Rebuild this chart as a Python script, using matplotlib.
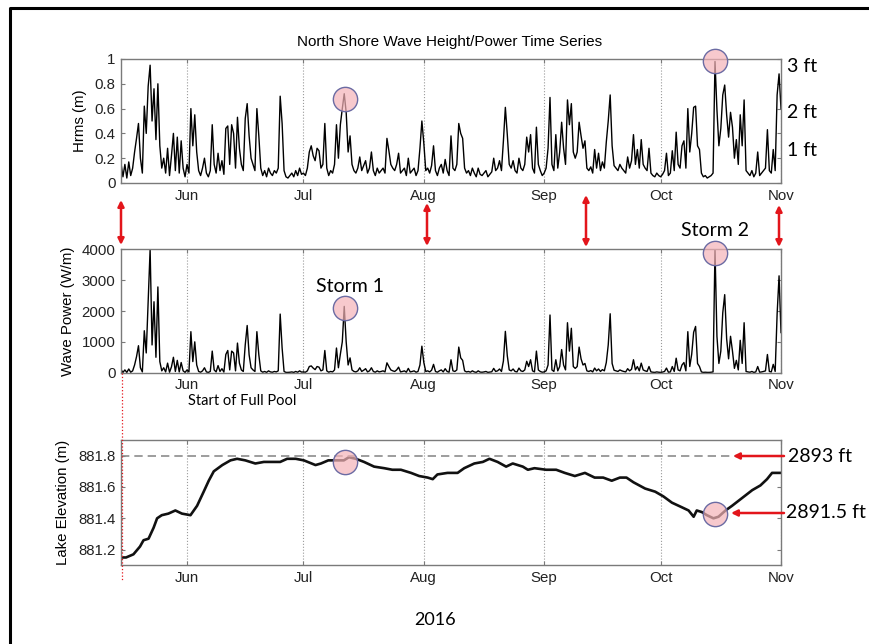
import numpy as np
import matplotlib
matplotlib.use("Agg")
import matplotlib.pyplot as plt
import matplotlib.dates as mdates
from matplotlib.patches import FancyArrowPatch
from matplotlib.lines import Line2D

plt.rcParams['font.family'] = ['Liberation Sans', 'DejaVu Sans']

# half-daily wave height (m) from 2016-05-15 00:00, one row = one week
hrms = [
    0.16, 0.05, 0.15, 0.04, 0.17, 0.06, 0.12, 0.25, 0.36, 0.48, 0.20, 0.08, 0.62, 0.40,
    0.78, 0.95, 0.50, 0.76, 0.35, 0.80, 0.30, 0.12, 0.20, 0.08, 0.28, 0.06, 0.22, 0.40,
    0.10, 0.37, 0.08, 0.34, 0.12, 0.05, 0.15, 0.08, 0.60, 0.30, 0.55, 0.25, 0.10, 0.06,
    0.12, 0.20, 0.08, 0.05, 0.10, 0.47, 0.15, 0.08, 0.24, 0.10, 0.18, 0.07, 0.44, 0.46,
    0.15, 0.47, 0.40, 0.12, 0.53, 0.28, 0.15, 0.10, 0.52, 0.64, 0.38, 0.20, 0.15, 0.10,
    0.60, 0.38, 0.12, 0.06, 0.10, 0.05, 0.12, 0.08, 0.06, 0.10, 0.08, 0.12, 0.70, 0.48,
    0.10, 0.05, 0.04, 0.06, 0.08, 0.05, 0.10, 0.06, 0.12, 0.07, 0.08, 0.06, 0.12, 0.25,
    0.30, 0.22, 0.18, 0.28, 0.26, 0.12, 0.15, 0.48, 0.12, 0.06, 0.10, 0.08, 0.15, 0.47,
    0.20, 0.47, 0.60, 0.72, 0.57, 0.25, 0.38, 0.15, 0.10, 0.08, 0.12, 0.21, 0.10, 0.14,
    0.18, 0.08, 0.12, 0.25, 0.10, 0.06, 0.12, 0.08, 0.10, 0.12, 0.08, 0.36, 0.26, 0.15,
    0.12, 0.10, 0.15, 0.24, 0.08, 0.10, 0.12, 0.06, 0.20, 0.08, 0.10, 0.12, 0.06, 0.10,
    0.28, 0.50, 0.32, 0.10, 0.12, 0.08, 0.14, 0.30, 0.10, 0.06, 0.12, 0.15, 0.08, 0.19,
    0.10, 0.06, 0.38, 0.12, 0.10, 0.15, 0.48, 0.40, 0.36, 0.12, 0.08, 0.10, 0.06, 0.12,
    0.08, 0.05, 0.12, 0.07, 0.06, 0.08, 0.10, 0.05, 0.07, 0.09, 0.20, 0.10, 0.12, 0.18,
    0.10, 0.34, 0.61, 0.39, 0.15, 0.12, 0.18, 0.10, 0.08, 0.20, 0.12, 0.10, 0.15, 0.37,
    0.25, 0.39, 0.12, 0.08, 0.45, 0.15, 0.10, 0.06, 0.08, 0.12, 0.28, 0.69, 0.15, 0.10,
    0.39, 0.12, 0.25, 0.49, 0.28, 0.15, 0.67, 0.47, 0.64, 0.25, 0.20, 0.25, 0.49, 0.38,
    0.28, 0.34, 0.12, 0.10, 0.13, 0.08, 0.27, 0.12, 0.24, 0.10, 0.17, 0.12, 0.33, 0.50,
    0.71, 0.30, 0.14, 0.12, 0.10, 0.15, 0.12, 0.10, 0.08, 0.21, 0.12, 0.18, 0.39, 0.15,
    0.27, 0.12, 0.35, 0.15, 0.12, 0.10, 0.28, 0.08, 0.06, 0.05, 0.08, 0.06, 0.05, 0.07,
    0.10, 0.24, 0.06, 0.08, 0.26, 0.10, 0.41, 0.15, 0.12, 0.30, 0.34, 0.12, 0.60, 0.25,
    0.40, 0.61, 0.62, 0.30, 0.27, 0.08, 0.05, 0.06, 0.04, 0.05, 0.06, 0.08, 0.98, 0.59,
    0.30, 0.44, 0.71, 0.79, 0.55, 0.37, 0.57, 0.45, 0.20, 0.35, 0.15, 0.55, 0.30, 0.67,
    0.10, 0.08, 0.06, 0.10, 0.05, 0.08, 0.25, 0.06, 0.08, 0.10, 0.12, 0.43, 0.10, 0.08,
    0.27, 0.10, 0.71, 0.88, 0.60,
]

# half-daily wave power (W/m), same time base
power = [
    100, 10, 90, 10, 120, 15, 60, 250, 520, 875, 160, 25, 1360, 640,
    2330, 4000, 900, 2300, 500, 2780, 360, 60, 160, 25, 310, 15, 190, 500,
    40, 400, 25, 330, 60, 10, 90, 25, 1330, 360, 1000, 250, 40, 15,
    60, 160, 25, 10, 40, 700, 90, 25, 230, 40, 130, 20, 590, 720,
    90, 700, 640, 60, 960, 310, 90, 40, 900, 1530, 580, 160, 90, 40,
    1330, 580, 60, 15, 40, 10, 60, 25, 15, 40, 25, 60, 1900, 800,
    40, 10, 10, 15, 25, 10, 40, 15, 60, 20, 25, 15, 60, 200,
    220, 150, 100, 200, 180, 60, 90, 720, 60, 15, 40, 25, 90, 800,
    160, 600, 1000, 2150, 1000, 250, 480, 90, 40, 25, 60, 160, 40, 80,
    130, 25, 60, 160, 40, 15, 60, 25, 40, 60, 25, 320, 200, 90,
    60, 40, 90, 180, 25, 40, 60, 15, 140, 25, 40, 60, 15, 40,
    250, 860, 330, 40, 60, 25, 80, 270, 40, 15, 60, 90, 25, 130,
    40, 15, 420, 60, 40, 90, 830, 480, 400, 60, 25, 40, 15, 60,
    25, 10, 60, 20, 15, 25, 40, 10, 20, 30, 140, 40, 60, 120,
    40, 380, 1340, 550, 90, 60, 120, 40, 25, 150, 60, 40, 90, 370,
    200, 420, 60, 25, 700, 90, 40, 15, 25, 60, 250, 1870, 90, 40,
    420, 60, 200, 750, 250, 90, 1620, 700, 1440, 200, 140, 200, 830, 450,
    250, 300, 60, 40, 70, 25, 150, 60, 120, 40, 100, 60, 330, 900,
    1910, 300, 80, 60, 40, 90, 60, 40, 25, 130, 60, 110, 420, 90,
    200, 60, 310, 90, 60, 40, 200, 25, 15, 10, 25, 15, 10, 20,
    40, 150, 15, 25, 200, 40, 470, 90, 60, 250, 330, 60, 1330, 200,
    600, 1310, 1500, 300, 200, 25, 10, 15, 10, 10, 15, 25, 4000, 1180,
    300, 700, 1940, 2530, 1100, 450, 1180, 700, 140, 400, 90, 1050, 300, 1620,
    40, 25, 15, 40, 10, 25, 200, 15, 25, 40, 60, 590, 40, 25,
    270, 40, 1900, 3140, 1300,
]

# lake level (m), days after 2016-05-15
lake_day = [0, 1.3, 3.2, 4.9, 5.8, 7.1, 8.4, 9.3, 10.5, 12.2,
            14, 15.7, 17.9, 19.6, 21.3, 22.6, 23.9, 26.1, 28.2, 29.9,
            32, 34.6, 36.8, 39.4, 41, 42.8, 45, 47.1, 50.1, 51.5,
            53.4, 55.7, 57.4, 58.7, 60.5, 62.6, 65.2, 67.8, 69.9, 72.1,
            74.7, 76.8, 79, 80.3, 81.5, 84.1, 86.7, 88.4, 91, 93.2,
            94.9, 97, 99.2, 100.9, 103.5, 104.8, 106.5, 109.5, 112.1, 114.3,
            116.9, 119.5, 122, 124.2, 126.4, 128.5, 130.2, 132, 135, 137.6,
            139.7, 141.9, 144.5, 146.2, 147.5, 148.3, 149.6, 150.9, 152.6, 153.9,
            155.7, 157.4, 160, 162.6, 164.7, 166.4, 167.7, 169, 170]
lake_elev = [881.15, 881.15, 881.17, 881.22, 881.26, 881.27, 881.34, 881.40, 881.42, 881.43,
             881.45, 881.43, 881.42, 881.48, 881.57, 881.64, 881.70, 881.74, 881.77, 881.78,
             881.77, 881.75, 881.76, 881.76, 881.76, 881.78, 881.78, 881.77, 881.74, 881.75,
             881.77, 881.77, 881.77, 881.79, 881.78, 881.76, 881.73, 881.72, 881.71, 881.71,
             881.69, 881.67, 881.66, 881.65, 881.68, 881.69, 881.69, 881.72, 881.75, 881.76,
             881.78, 881.76, 881.73, 881.75, 881.73, 881.71, 881.72, 881.71, 881.71, 881.69,
             881.67, 881.69, 881.66, 881.66, 881.64, 881.66, 881.66, 881.63, 881.59, 881.57,
             881.54, 881.50, 881.47, 881.45, 881.41, 881.45, 881.44, 881.42, 881.40, 881.41,
             881.45, 881.48, 881.53, 881.58, 881.61, 881.65, 881.69, 881.69, 881.69]

# storm markers
storm_day = [57.7, 152.9]
storm_hrms = [0.68, 0.98]
storm_power = [2090, 3890]
storm_lake = [881.76, 881.43]
full_pool = 881.8

t0 = np.datetime64('2016-05-15T00:00')
t_wave = t0 + np.arange(len(hrms)) * np.timedelta64(12, 'h')
def to_date(days):
    return t0 + (np.array(days) * 24 * 60).astype(int) * np.timedelta64(1, 'm')

W, H = 870, 644
fig = plt.figure(figsize=(W / 100, H / 100), dpi=100)

def fx(p):
    return p / W
def fy(p):
    return 1 - p / H

spine_c = '#7a7a7a'
red = '#e3151b'
ann_font = 'Lato'

ax1 = fig.add_axes([fx(121), fy(183), 660 / W, 124 / H])
ax2 = fig.add_axes([fx(121), fy(372.7), 660 / W, 123.4 / H])
ax3 = fig.add_axes([fx(121), fy(565.3), 660 / W, 125.3 / H])

for ax in (ax1, ax2, ax3):
    ax.set_xlim(t0, np.datetime64('2016-11-01T00:00'))
    ax.xaxis.set_major_locator(mdates.MonthLocator())
    ax.xaxis.set_major_formatter(mdates.DateFormatter('%b'))
    ax.grid(axis='x', ls=':', color='#9a9a9a', lw=0.8)
    ax.tick_params(direction='in', length=3, top=True, right=True, color=spine_c,
                   labelsize=10.8, labelcolor='#222222', pad=4)
    for s in ax.spines.values():
        s.set_color(spine_c)
        s.set_linewidth(1.0)

ax1.plot(t_wave, hrms, color='#000000', lw=1.0)
ax1.set_ylim(0, 1)
ax1.set_yticks([0, 0.2, 0.4, 0.6, 0.8, 1])
ax1.set_yticklabels(['0', '0.2', '0.4', '0.6', '0.8', '1'])
ax1.set_ylabel('Hrms (m)', fontsize=10.8, va='center')
ax1.yaxis.set_label_coords(-0.062, 0.5)

ax2.plot(t_wave, power, color='#000000', lw=1.0)
ax2.set_ylim(0, 4000)
ax2.set_yticks([0, 1000, 2000, 3000, 4000])
ax2.set_ylabel('Wave Power (W/m)', fontsize=10.8, va='center')
ax2.yaxis.set_label_coords(-0.080, 0.5)

ax3.plot(to_date(lake_day), lake_elev, color='#111111', lw=1.9)
ax3.axhline(full_pool, color='#8c8c8c', ls=(0, (5, 3)), lw=1.2)
ax3.set_ylim(881.1, 881.9)
ax3.set_yticks([881.2, 881.4, 881.6, 881.8])
ax3.set_ylabel('Lake Elevation (m)', fontsize=10.8, va='center')
ax3.yaxis.set_label_coords(-0.088, 0.5)

# storm circles
circ = dict(marker='o', ms=17.5, ls='none', mfc=(0.96, 0.70, 0.72, 0.7),
            mec='#6b6ba3', mew=1.0, clip_on=False, zorder=4)
ax1.plot(to_date(storm_day), storm_hrms, **circ)
ax2.plot(to_date(storm_day), storm_power, **circ)
ax3.plot(to_date(storm_day), storm_lake, **circ)

fig.text(fx(450), fy(42), 'North Shore Wave Height/Power Time Series',
         ha='center', va='center', fontsize=11)

for label, y in [('3 ft', 67), ('2 ft', 112.7), ('1 ft', 151)]:
    fig.text(fx(787), fy(y), label, ha='left', va='center', fontsize=14, family=ann_font)

fig.text(fx(350), fy(287), 'Storm 1', ha='center', va='center', fontsize=14, family=ann_font)
fig.text(fx(715), fy(230), 'Storm 2', ha='center', va='center', fontsize=14, family=ann_font)
fig.text(fx(188), fy(401), 'Start of Full Pool', ha='left', va='center', fontsize=10.5,
         family=ann_font)
fig.text(fx(788), fy(456), '2893 ft', ha='left', va='center', fontsize=14, family=ann_font)
fig.text(fx(786), fy(513), '2891.5 ft', ha='left', va='center', fontsize=14, family=ann_font)
fig.text(fx(435), fy(620), '2016', ha='center', va='center', fontsize=13, family=ann_font)

# red arrows between the panels
for x, ya, yb in [(121, 200, 245), (427, 203, 246), (586, 195, 247), (779, 205, 247)]:
    fig.add_artist(FancyArrowPatch((fx(x), fy(ya)), (fx(x), fy(yb)), transform=fig.transFigure,
                                   arrowstyle='<|-|>', mutation_scale=9, color=red, lw=1.8,
                                   shrinkA=0, shrinkB=0))
for x0, x1, y in [(784, 733, 456), (784, 731, 513)]:
    fig.add_artist(FancyArrowPatch((fx(x0), fy(y)), (fx(x1), fy(y)), transform=fig.transFigure,
                                   arrowstyle='-|>', mutation_scale=9, color=red, lw=1.8,
                                   shrinkA=0, shrinkB=0))

# start-of-full-pool marker line
fig.add_artist(Line2D([fx(122), fx(122)], [fy(373), fy(580)], color=red, ls=':', lw=0.9))

# outer frame
fig.add_artist(Line2D([fx(10), fx(10), fx(870)], [fy(644), fy(8), fy(8)], color='black', lw=2.2))

fig.savefig('out.png', dpi=100)
